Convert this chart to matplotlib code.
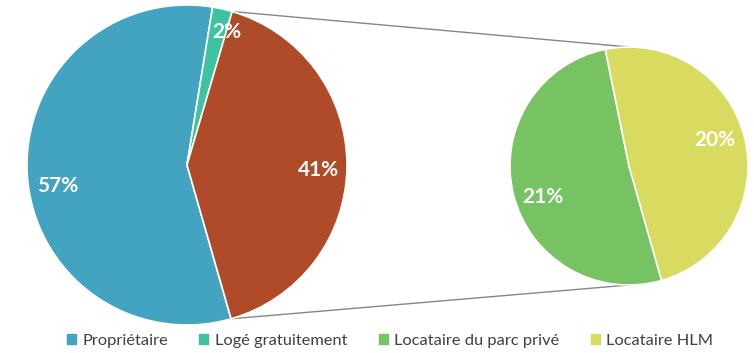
import numpy as np
import matplotlib
matplotlib.use("Agg")
import matplotlib.pyplot as plt
from matplotlib.patches import Patch

plt.rcParams['font.family'] = ['Lato', 'DejaVu Sans']

# Main pie: housing status
main_labels = ["Propriétaire", "Logé gratuitement", "Locataire"]
main_values = [57, 2, 41]
main_colors = ["#42A4C0", "#3DC3A0", "#B04B29"]

# Secondary pie: breakdown of tenants
sub_labels = ["Locataire du parc privé", "Locataire HLM"]
sub_values = [21, 20]
sub_colors = ["#77C263", "#D9DB60"]

W, H = 754, 353
fig = plt.figure(figsize=(W / 100, H / 100), dpi=100)
ax = fig.add_axes([0, 0, 1, 1])

main_c, main_r = (187, 188), 160
sub_c, sub_r = (629, 187), 119

wedges_main, _ = ax.pie(main_values, colors=main_colors, center=main_c, radius=main_r,
                        startangle=-74, counterclock=False,
                        wedgeprops=dict(edgecolor="white", linewidth=1.2), frame=True)
wedges_sub, _ = ax.pie(sub_values, colors=sub_colors, center=sub_c, radius=sub_r,
                       startangle=101.5, counterclock=True,
                       wedgeprops=dict(edgecolor="white", linewidth=1.2), frame=True)
ax.set_xlim(0, W)
ax.set_ylim(0, H)
ax.set_aspect('equal')
ax.axis('off')


def put_label(wedge, value, center, radius, dist, dang=0.0):
    mid = np.deg2rad((wedge.theta1 + wedge.theta2) / 2 + dang)
    x = center[0] + dist * radius * np.cos(mid)
    y = center[1] + dist * radius * np.sin(mid)
    ax.text(x, y, f"{value}%", ha="center", va="center", color="white",
            fontsize=15, fontweight="bold")


put_label(wedges_main[0], main_values[0], main_c, main_r, 0.82, 6)
put_label(wedges_main[1], main_values[1], main_c, main_r, 0.87, -4)
put_label(wedges_main[2], main_values[2], main_c, main_r, 0.82, -2)
put_label(wedges_sub[0], sub_values[0], sub_c, sub_r, 0.77, 6)
put_label(wedges_sub[1], sub_values[1], sub_c, sub_r, 0.75, 3)

# Connector lines from the tenant slice to the secondary pie
tw = wedges_main[2]
for ang, sy in ((tw.theta1, -1), (tw.theta2, 1)):
    a = np.deg2rad(ang)
    x0 = main_c[0] + main_r * np.cos(a)
    y0 = main_c[1] + main_r * np.sin(a)
    ax.plot([x0, sub_c[0]], [y0, sub_c[1] + sy * sub_r], color="#858585", lw=1.0, zorder=0)

handles = [Patch(color=c) for c in main_colors[:2] + sub_colors]
names = main_labels[:2] + sub_labels
fig.legend(handles, names, loc="center", bbox_to_anchor=(390 / W, 1 - 341 / H), ncol=4,
           frameon=False, fontsize=11.8, handlelength=0.55, handleheight=0.55,
           handletextpad=0.4, columnspacing=1.9, labelcolor="#404040")

fig.savefig("out.png", dpi=100)
